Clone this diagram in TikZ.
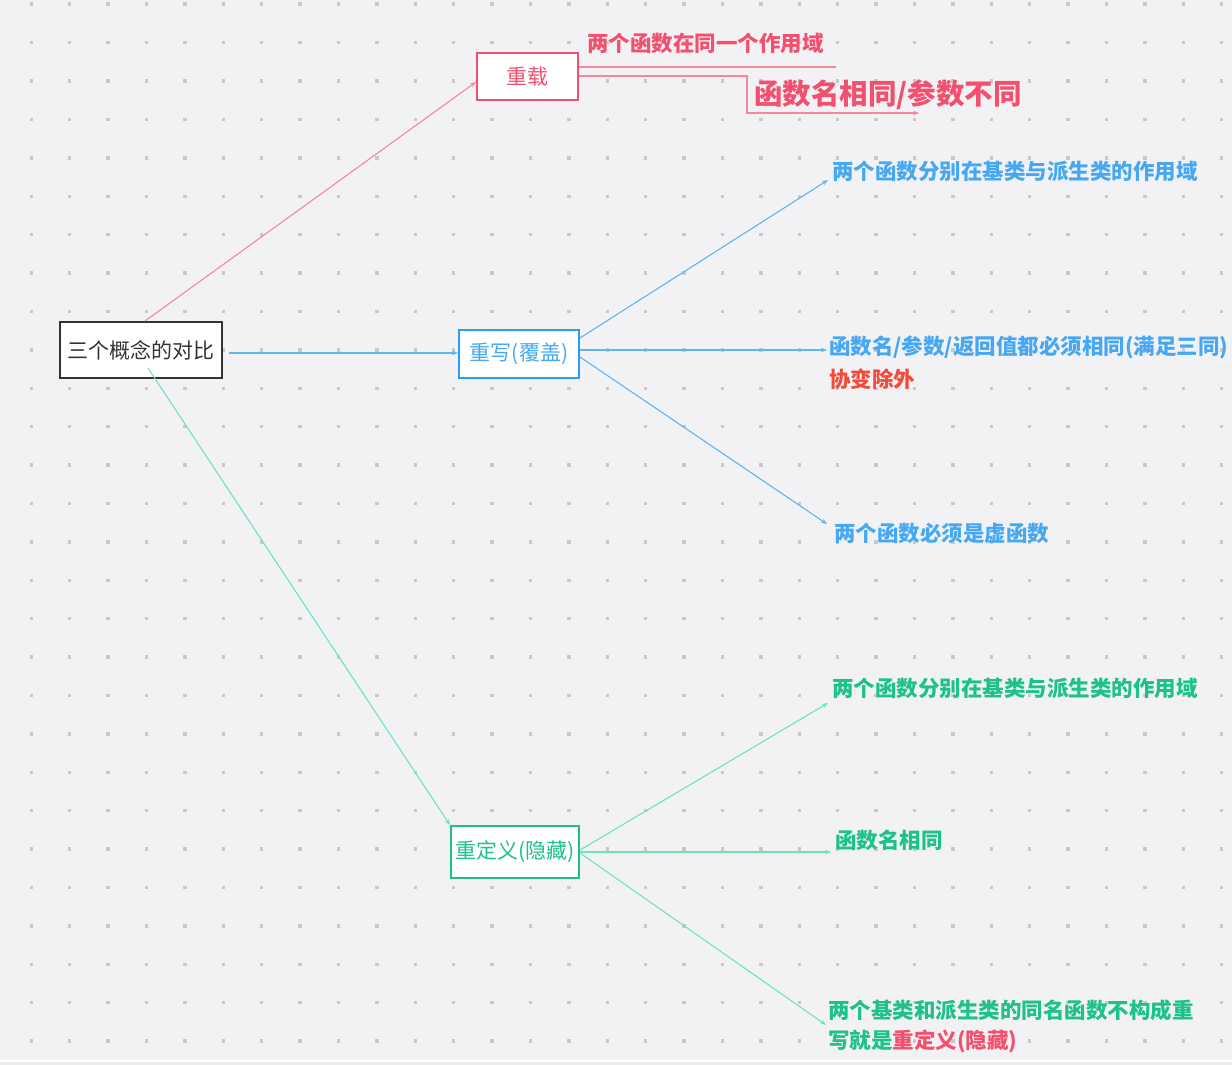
\documentclass[tikz,border=0pt]{standalone}
\usepackage{fontspec}
\newfontfamily\cjk{Noto Sans CJK SC}
\usetikzlibrary{arrows.meta}
\definecolor{bgc}{HTML}{F2F2F4}
\definecolor{bgbot}{HTML}{EBEBED}
\definecolor{dotc}{HTML}{C9C9CB}
\definecolor{pinkc}{HTML}{F2506E}
\definecolor{pinkl}{HTML}{F5889C}
\definecolor{bluec}{HTML}{2A9DF4}
\definecolor{bluet}{HTML}{46A8F2}
\definecolor{bluel}{HTML}{5DB6F2}
\definecolor{greenc}{HTML}{1DBF86}
\definecolor{greent}{HTML}{1CC287}
\definecolor{greenl}{HTML}{6FE2BE}
\definecolor{redc}{HTML}{F24B3B}
\definecolor{grayt}{HTML}{333333}
\begin{document}
\begin{tikzpicture}[x=1pt,y=-1pt,
  box/.style={draw,line width=2pt,fill=white,inner sep=0pt,font=\cjk\fontsize{21}{24}\selectfont},
  leaf/.style={anchor=west,inner sep=0pt,font=\cjk\bfseries\fontsize{21.5}{31}\selectfont,align=left},
  conn/.style={line width=1.1pt,-{Stealth[length=6pt,width=4.5pt]}},
  plain/.style={line width=1.1pt}]
\fill[bgc] (0,0) rectangle (1232,1065);
\foreach \i in {0,...,31}{\foreach \j in {0,...,27}{
  \fill[dotc] (29.5+38.4*\i,2.5+38.4*\j) rectangle ++(3.5,3.5);}}
\fill[white] (0,1059.5) rectangle (1232,1062);
\fill[bgbot] (0,1062) rectangle (1232,1065);

% main boxes
\node[box,draw=grayt,text=grayt,minimum width=162pt,minimum height=56pt] (root) at (141,350) {三个概念的对比};
\node[box,draw=pinkc,text=pinkc,minimum width=101pt,minimum height=47pt] (ol) at (527.5,76.5) {重载};
\node[box,draw=bluec,text=bluet,minimum width=120pt,minimum height=48pt] (ow) at (519,354) {重写(覆盖)};
\node[box,draw=greenc,text=greent,minimum width=128pt,minimum height=52pt] (hd) at (515,852) {重定义(隐藏)};

% leaves
\node[leaf,text=pinkc] (p1) at (587,43) {两个函数在同一个作用域};
\node[leaf,text=pinkc,font=\cjk\bfseries\fontsize{28.5}{32}\selectfont] (p2) at (754,95) {函数名相同/参数不同};
\node[leaf,text=bluet] (b1) at (832,171) {两个函数分别在基类与派生类的作用域};
\node[leaf,text=bluet] (b2) at (829,347) {函数名/参数/返回值都必须相同(满足三同)};
\node[leaf,text=redc] (b2r) at (829,379) {协变除外};
\node[leaf,text=bluet] (b3) at (834,533) {两个函数必须是虚函数};
\node[leaf,text=greent] (g1) at (832,688) {两个函数分别在基类与派生类的作用域};
\node[leaf,text=greent] (g2) at (835,840) {函数名相同};
\node[leaf,text=greent] (g3a) at (828,1010) {两个基类和派生类的同名函数不构成重};
\node[leaf,text=greent] (g3b) at (828,1041) {写就是\textcolor{pinkc}{重定义(隐藏)}};

% root connectors
\draw[conn,pinkl] (145,321) -- (ol.west |- 0,82);
\draw[conn,bluel] (229,353) -- (ow.west |- 0,353);
\draw[conn,greenl] (148,368) -- (hd.north west);

% overload connectors
\coordinate (o1) at (836,67);
\coordinate (o2) at (919,113);
\draw[plain,pinkl] (ol.east |- 0,67) -- (o1);
\draw[conn,pinkl] (ol.east |- 0,76) -- (747,76) -- (747,113) -- (o2);

% override connectors
\coordinate (bt1) at (828,180);
\coordinate (bt2) at (827,350);
\coordinate (bt3) at (827,524);
\draw[conn,bluel] (ow.east |- 0,338) -- (bt1);
\draw[conn,bluel] (ow.east |- 0,350) -- (bt2);
\draw[conn,bluel] (ow.east |- 0,357) -- (bt3);

% hide connectors
\coordinate (gt1) at (828,703);
\coordinate (gt2) at (831,852);
\coordinate (gt3) at (826,1025);
\draw[conn,greenl] (hd.east |- 0,850) -- (gt1);
\draw[conn,greenl] (hd.east |- 0,852) -- (gt2);
\draw[conn,greenl] (hd.east |- 0,853) -- (gt3);
\end{tikzpicture}
\end{document}
